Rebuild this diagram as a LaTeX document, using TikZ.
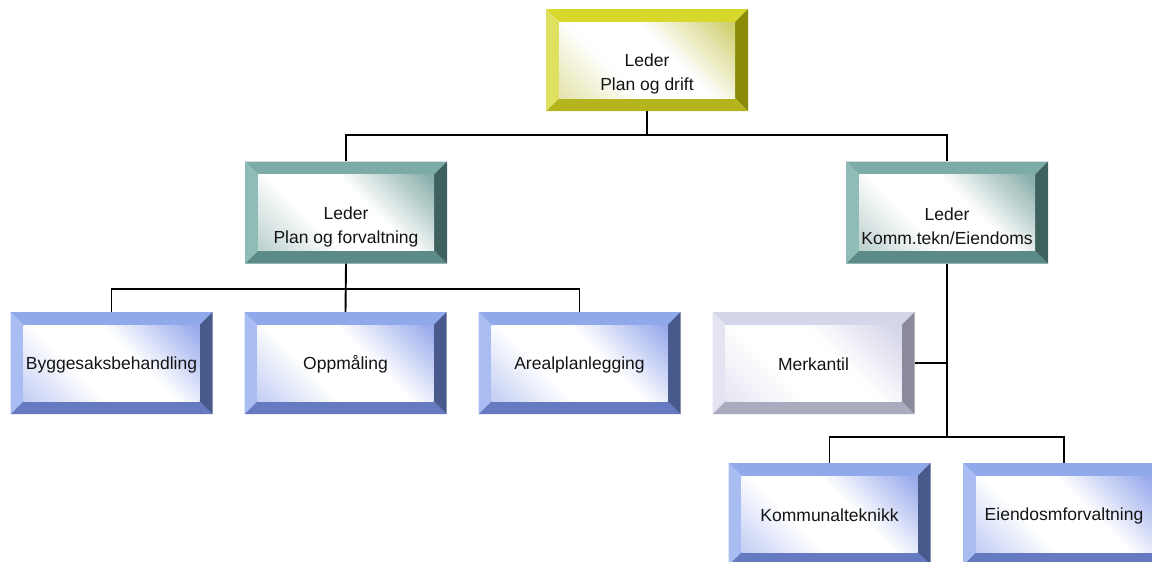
\documentclass[tikz,border=0pt]{standalone}
\usepackage{fontspec}
\setmainfont{Liberation Sans}
\usetikzlibrary{calc}

% bevel palettes: top, bottom, left, right bands and face tint
\definecolor{gold-top}{HTML}{D8D82C}
\definecolor{gold-bot}{HTML}{B4B41E}
\definecolor{gold-left}{HTML}{E0E060}
\definecolor{gold-right}{HTML}{8A8A06}
\definecolor{gold-face}{HTML}{CFCF6E}

\definecolor{teal-top}{HTML}{7DABA7}
\definecolor{teal-bot}{HTML}{5C8B87}
\definecolor{teal-left}{HTML}{90BCB8}
\definecolor{teal-right}{HTML}{3E615E}
\definecolor{teal-face}{HTML}{88AEAA}

\definecolor{blue-top}{HTML}{90A9EA}
\definecolor{blue-bot}{HTML}{657AC0}
\definecolor{blue-left}{HTML}{A9BDF2}
\definecolor{blue-right}{HTML}{48598C}
\definecolor{blue-face}{HTML}{98AAEC}

\definecolor{lav-top}{HTML}{D6D6EA}
\definecolor{lav-bot}{HTML}{ABABC0}
\definecolor{lav-left}{HTML}{E3E3F1}
\definecolor{lav-right}{HTML}{8A8A9C}
\definecolor{lav-face}{HTML}{D4D4EA}

% face glow: tint in one corner, white in the middle, a faint tint in the opposite corner
\colorlet{facecol}{white}
\colorlet{facelow}{white}
\pgfdeclareverticalshading[facecol,facelow]{faceglow}{100bp}{%
  color(0bp)=(facelow); color(16bp)=(facelow); color(38bp)=(white);
  color(58bp)=(white); color(84bp)=(facecol); color(100bp)=(facecol)}

\def\bv{13pt}
\newcommand\bevelfill[1]{%
  \coordinate (pp-nw) at (path picture bounding box.north west);
  \coordinate (pp-ne) at (path picture bounding box.north east);
  \coordinate (pp-sw) at (path picture bounding box.south west);
  \coordinate (pp-se) at (path picture bounding box.south east);
  \fill[#1-top] (pp-nw) -- (pp-ne) -- ([shift={(-\bv,-\bv)}]pp-ne) -- ([shift={(\bv,-\bv)}]pp-nw) -- cycle;
  \fill[#1-bot] (pp-sw) -- (pp-se) -- ([shift={(-\bv,\bv)}]pp-se) -- ([shift={(\bv,\bv)}]pp-sw) -- cycle;
  \fill[#1-left] (pp-nw) -- (pp-sw) -- ([shift={(\bv,\bv)}]pp-sw) -- ([shift={(\bv,-\bv)}]pp-nw) -- cycle;
  \fill[#1-right] (pp-ne) -- (pp-se) -- ([shift={(-\bv,\bv)}]pp-se) -- ([shift={(-\bv,-\bv)}]pp-ne) -- cycle;
  \colorlet{facecol}{#1-face}%
  \colorlet{facelow}{#1-face!55!white}%
  \shade[shading=faceglow, shading angle=-45]
    ([shift={(\bv,-\bv)}]pp-nw) rectangle ([shift={(-\bv,\bv)}]pp-se);
}

\tikzset{
  bevbox/.style={minimum width=202pt, minimum height=102pt, inner sep=0pt,
    path picture={\bevelfill{#1}}},
  lbl/.style={font=\fontsize{17.5}{24}\selectfont, text=black!92, align=center, inner sep=0pt},
  wire/.style={line width=1.9pt, black},
}

\begin{document}
\begin{tikzpicture}[x=1pt, y=-1pt]
  \useasboundingbox (0,0) rectangle (1152,562);
  \clip (0,0) rectangle (1152,562);

  % boxes
  \node[bevbox=gold] (top) at (647,60) {};
  \node[bevbox=teal] (pf)  at (346,212.5) {};
  \node[bevbox=teal] (ke)  at (947,212.5) {};
  \node[bevbox=blue] (byg) at (111.5,363) {};
  \node[bevbox=blue] (opp) at (345.5,363) {};
  \node[bevbox=blue] (are) at (579.5,363) {};
  \node[bevbox=lav]  (mer) at (813.5,363) {};
  \node[bevbox=blue] (kom) at (829.5,514) {};
  \node[bevbox=blue] (eie) at (1064,514) {};

  % labels
  \node[lbl] (top-t) at ([yshift=-14pt]top.center) {Leder\\Plan og drift};
  \node[lbl] (pf-t)  at ([yshift=-14pt]pf.center)  {Leder\\Plan og forvaltning};
  \node[lbl] (ke-t)  at ([yshift=-14pt]ke.center)  {Leder\\Komm.tekn/Eiendoms};
  \node[lbl] (byg-t) at ([yshift=-1.5pt]byg.center) {Byggesaksbehandling};
  \node[lbl] (opp-t) at ([yshift=-1.5pt]opp.center) {Oppmåling};
  \node[lbl] (are-t) at ([yshift=-1.5pt]are.center) {Arealplanlegging};
  \node[lbl] (mer-t) at ([yshift=-1.5pt]mer.center) {Merkantil};
  \node[lbl] (kom-t) at ([yshift=-1.5pt]kom.center) {Kommunalteknikk};
  \node[lbl] (eie-t) at ([yshift=-1.5pt]eie.center) {Eiendosmforvaltning};

  % junction points
  \coordinate (j1) at (647,135);
  \coordinate (j2) at (346,289);
  \coordinate (j3) at (947,437);
  \coordinate (j4) at (947,363);

  % connectors
  \draw[wire] (top.south) -- (j1);
  \draw[wire] (pf.north) |- (j1) -| (ke.north);

  \draw[wire] (pf.south) -- (opp.north);
  \draw[wire] (byg.north) |- (j2) -| (are.north);

  \draw[wire] (ke.south) -- (j3);
  \draw[wire] (mer.east) -- (j4);
  \draw[wire] (kom.north) |- (j3) -| (eie.north);
\end{tikzpicture}
\end{document}
